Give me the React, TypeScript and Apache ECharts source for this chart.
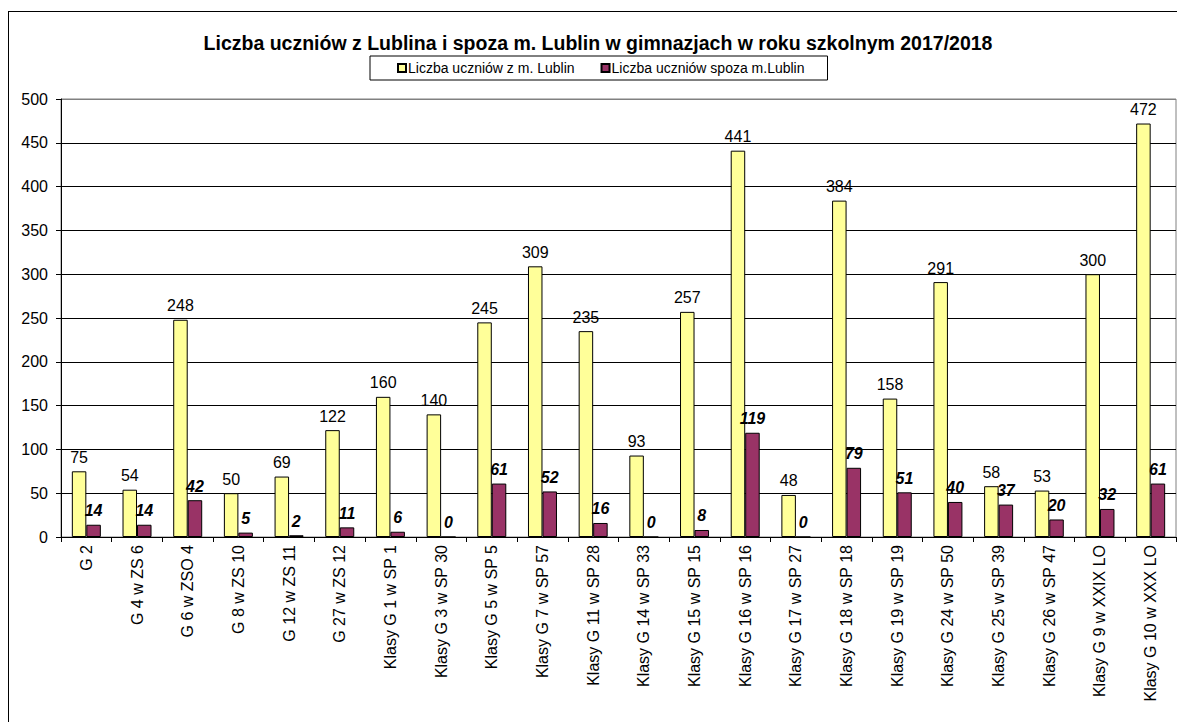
import React, { useEffect, useRef } from "react";
import * as echarts from "echarts";

const categories = [
  "G 2", "G 4 w ZS 6", "G 6 w ZSO 4", "G 8 w ZS 10", "G 12 w ZS 11", "G 27 w ZS 12",
  "Klasy G 1 w SP 1", "Klasy G 3 w SP 30", "Klasy G 5 w SP 5", "Klasy G 7 w SP 57",
  "Klasy G 11 w SP 28", "Klasy G 14 w SP 33", "Klasy G 15 w SP 15", "Klasy G 16 w SP 16",
  "Klasy G 17 w SP 27", "Klasy G 18 w SP 18", "Klasy G 19 w SP 19", "Klasy G 24 w SP 50",
  "Klasy G 25 w SP 39", "Klasy G 26 w SP 47", "Klasy G 9 w XXIX LO", "Klasy G 10 w XXX LO",
];
const lublinValues = [75, 54, 248, 50, 69, 122, 160, 140, 245, 309, 235, 93, 257, 441, 48, 384, 158, 291, 58, 53, 300, 472];
const spozaValues = [14, 14, 42, 5, 2, 11, 6, 0, 61, 52, 16, 0, 8, 119, 0, 79, 51, 40, 37, 20, 32, 61];
const seriesNames = ["Liczba uczniów z m. Lublin", "Liczba uczniów spoza m.Lublin"];
const titleText = "Liczba uczniów z Lublina i spoza m. Lublin w gimnazjach w roku szkolnym 2017/2018";

const FONT = "'Liberation Sans', Arial, sans-serif";

export default function App() {
  const ref = useRef<HTMLDivElement>(null);
  useEffect(() => {
    document.body.style.margin = "0";
    document.body.style.overflow = "hidden";
    if (!ref.current) return;
    const chart = echarts.init(ref.current, null, { renderer: "svg" });
    const splitColors = ["#000", "#000", "#000", "#000", "#000", "#000", "#000", "#000", "#000", "#000", "#808080"];
    chart.setOption({
      animation: false,
      backgroundColor: "#fff",
      textStyle: { fontFamily: FONT },
      graphic: [
        {
          type: "line",
          shape: { x1: 8, y1: 11.5, x2: 1200, y2: 11.5 },
          style: { stroke: "#000", lineWidth: 1 },
          silent: true,
        },
        {
          type: "line",
          shape: { x1: 8.5, y1: 11.5, x2: 8.5, y2: 722 },
          style: { stroke: "#000", lineWidth: 1 },
          silent: true,
        },
      ],
      title: {
        text: titleText,
        left: 593,
        textAlign: "center",
        top: 28,
        textStyle: { fontFamily: FONT, fontSize: 19.5, fontWeight: "bold", color: "#000" },
      },
      legend: {
        top: 56,
        left: 370,
        data: seriesNames,
        icon: "rect",
        itemWidth: 8,
        itemHeight: 8,
        itemGap: 26,
        padding: [5, 23, 5, 27],
        borderColor: "#000",
        borderWidth: 1,
        textStyle: { fontFamily: FONT, fontSize: 14, color: "#000", padding: [0, 0, 0, -3] },
      },
      grid: {
        left: 61,
        width: 1115,
        top: 99,
        bottom: 185,
        show: true,
        borderColor: "#808080",
        borderWidth: 1,
        containLabel: false,
      },
      xAxis: {
        type: "category",
        data: categories,
        axisLine: { show: true, lineStyle: { color: "#000" } },
        axisTick: { show: true, length: 5, lineStyle: { color: "#000" } },
        axisLabel: {
          rotate: 90,
          interval: 0,
          margin: 8,
          fontFamily: FONT,
          fontSize: 16,
          color: "#000",
        },
      },
      yAxis: {
        type: "value",
        min: 0,
        max: 500,
        interval: 50,
        axisLine: { show: true, lineStyle: { color: "#000" } },
        axisTick: { show: true, length: 5, lineStyle: { color: "#000" } },
        axisLabel: { margin: 13, fontFamily: FONT, fontSize: 16, color: "#000" },
        splitLine: { show: true, lineStyle: { color: splitColors, width: 1 } },
      },
      series: [
        {
          name: seriesNames[0],
          type: "bar",
          data: lublinValues,
          barWidth: 14.5,
          barGap: "0%",
          itemStyle: { color: "#FFFF99", borderColor: "#000", borderWidth: 1 },
          label: {
            show: true,
            position: "top",
            distance: 6,
            fontFamily: FONT,
            fontSize: 16,
            color: "#000",
          },
        },
        {
          name: seriesNames[1],
          type: "bar",
          data: spozaValues,
          barWidth: 14.5,
          barGap: "0%",
          itemStyle: { color: "#993366", borderColor: "#000", borderWidth: 1 },
          label: {
            show: true,
            position: "top",
            distance: 6,
            fontFamily: FONT,
            fontSize: 16,
            fontWeight: "bold",
            fontStyle: "italic",
            color: "#000",
          },
        },
      ],
    });
    return () => chart.dispose();
  }, []);
  return (
    <div style={{ width: 1177, height: 722, overflow: "hidden" }}>
      <div ref={ref} style={{ width: 1200, height: 722 }} />
    </div>
  );
}
